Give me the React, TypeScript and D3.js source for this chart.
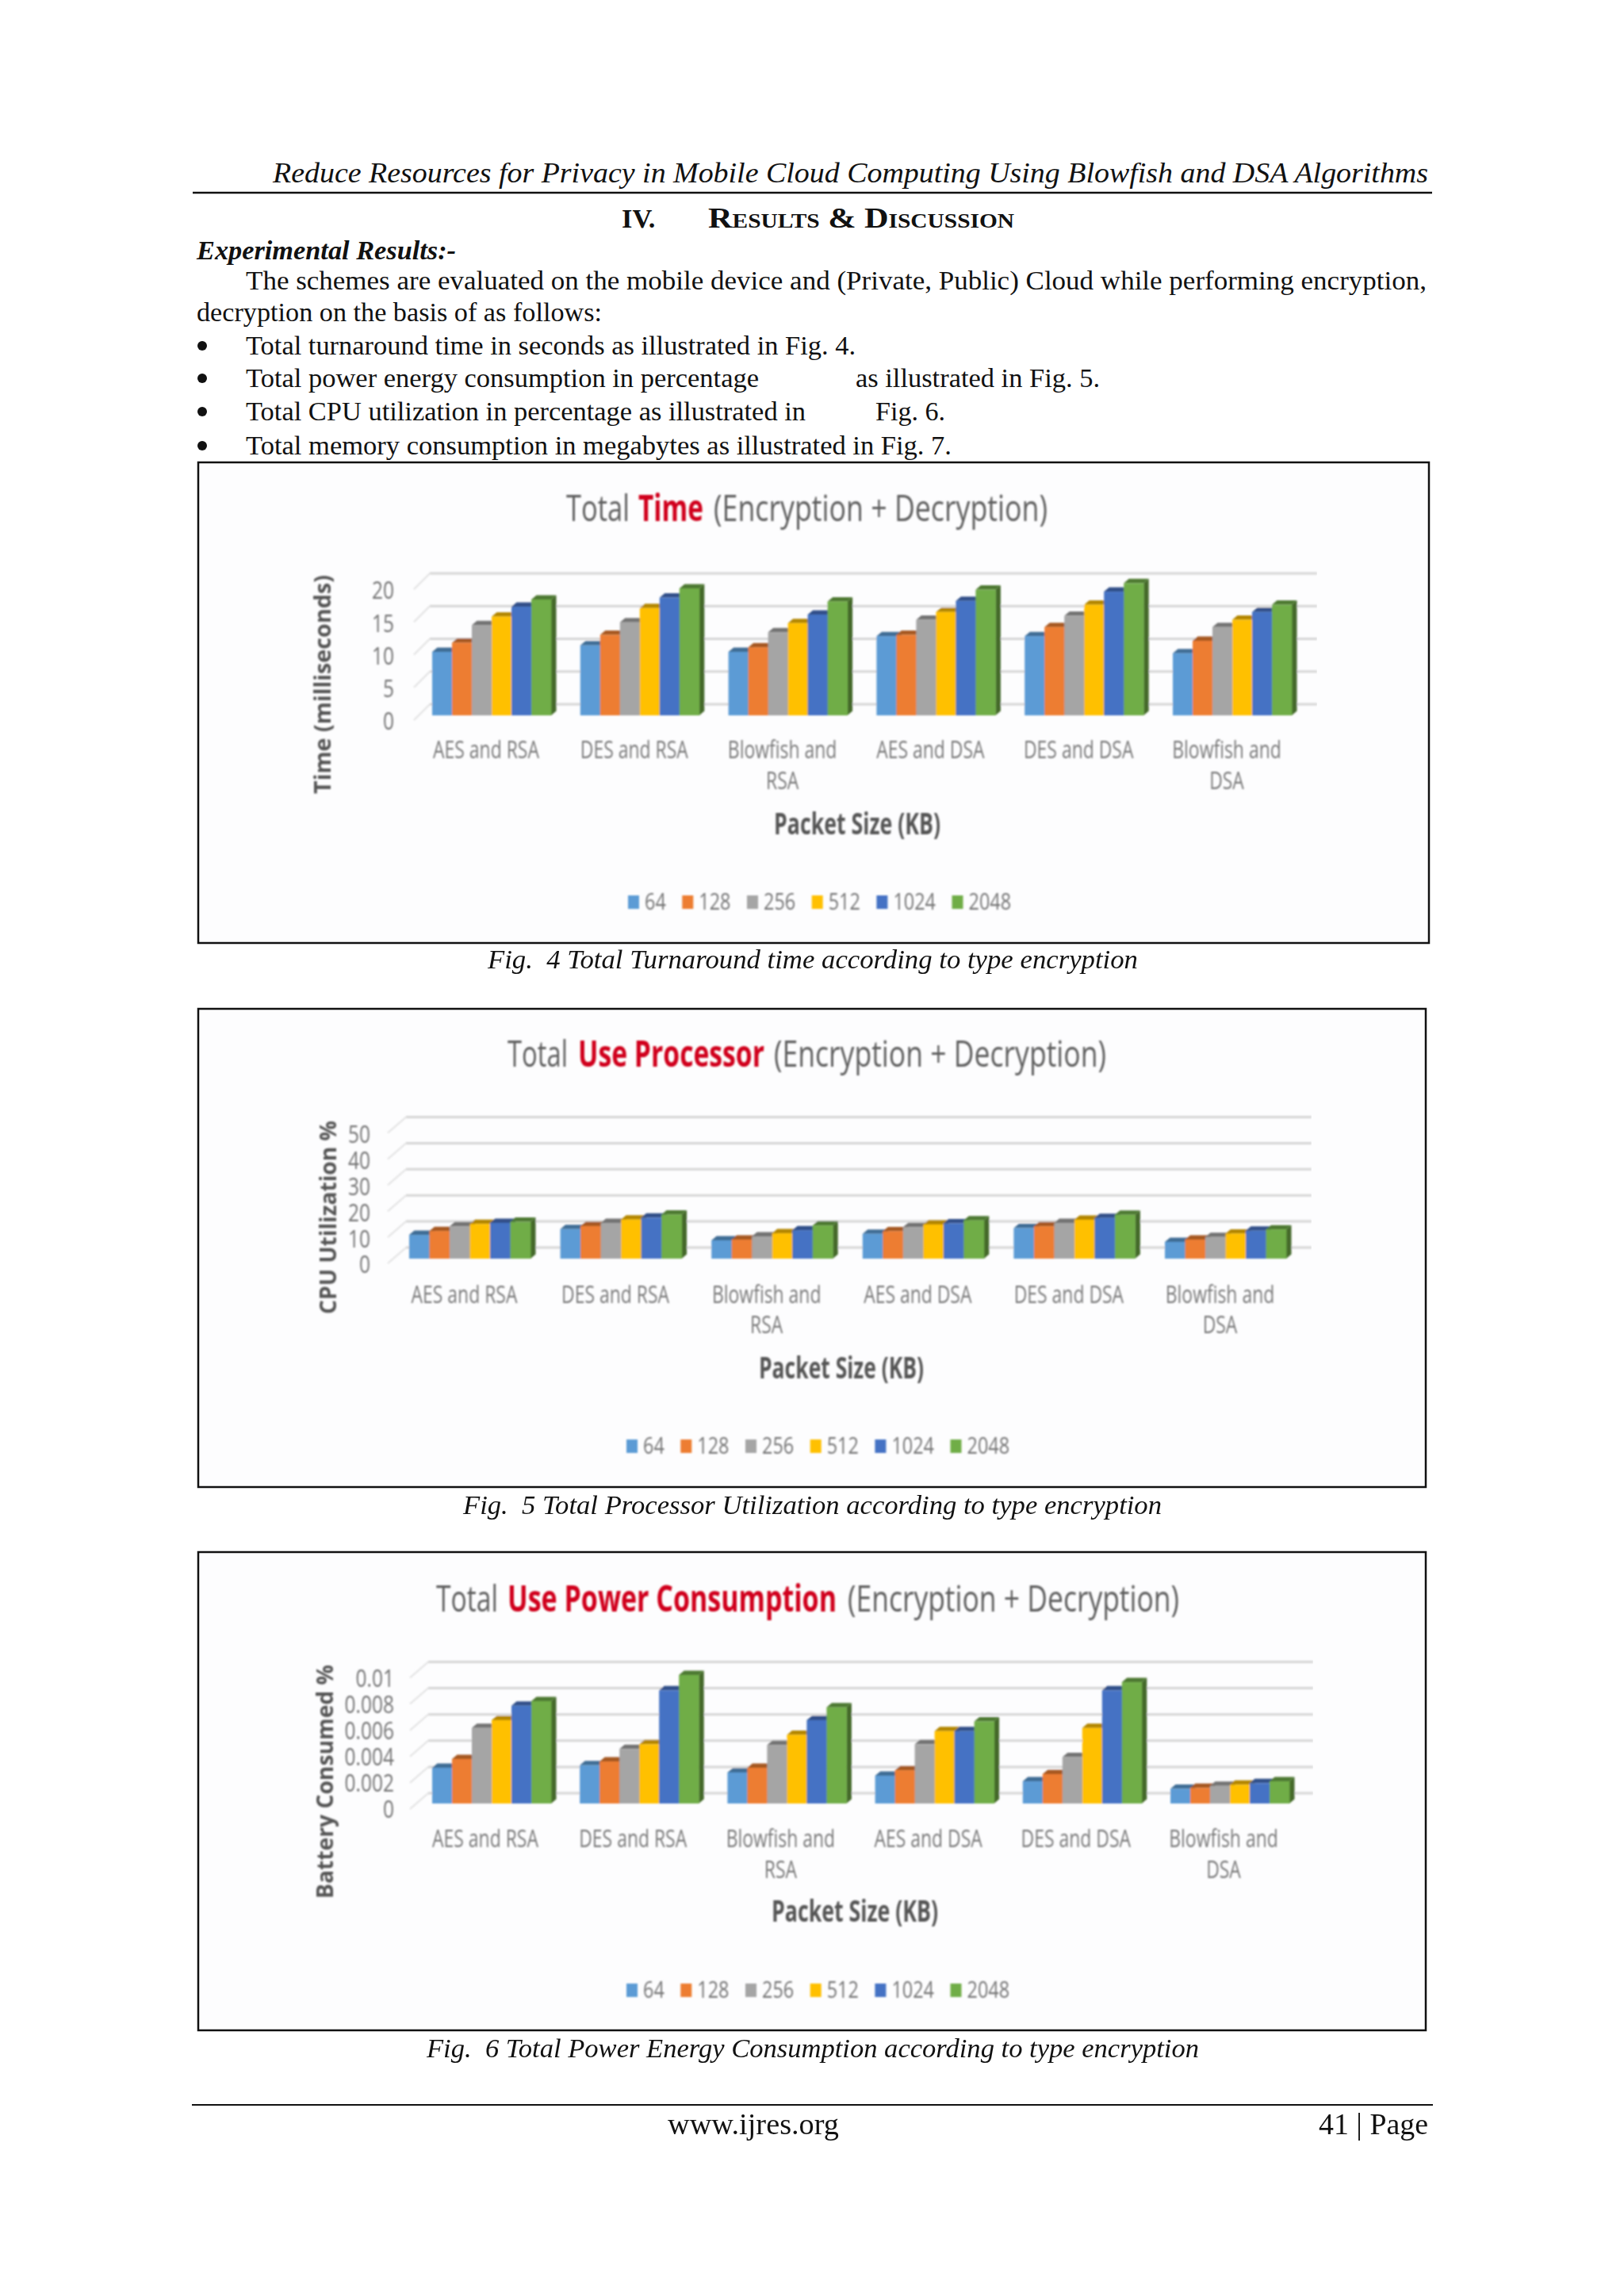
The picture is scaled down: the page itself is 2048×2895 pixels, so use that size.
import React, { useRef, useEffect } from 'react';
import * as d3 from 'd3';

const categories = [['AES and RSA'], ['DES and RSA'], ['Blowfish and', 'RSA'], ['AES and DSA'], ['DES and DSA'], ['Blowfish and', 'DSA']];
const seriesNames = ['64', '128', '256', '512', '1024', '2048'];
const seriesColors = ['#5B9BD5', '#ED7D31', '#A5A5A5', '#FFC000', '#4472C4', '#70AD47'];

const timeValues = [
  [9.7, 11.1, 13.8, 15.1, 16.6, 17.7],
  [10.7, 12.3, 14.2, 16.4, 18.0, 19.4],
  [9.7, 10.4, 12.7, 14.1, 15.4, 17.4],
  [12.1, 12.3, 14.6, 15.8, 17.5, 19.2],
  [12.1, 13.5, 15.2, 16.9, 18.9, 20.2],
  [9.5, 11.4, 13.5, 14.6, 15.8, 16.9],
];
const cpuValues = [
  [9.1, 10.6, 12.4, 13.3, 13.7, 14.1],
  [11.3, 12.5, 13.7, 15.0, 15.7, 16.9],
  [7.0, 7.3, 8.5, 9.7, 10.9, 12.7],
  [9.5, 10.5, 12.1, 13.1, 13.5, 14.7],
  [11.7, 12.4, 13.7, 14.9, 15.6, 16.8],
  [6.4, 7.3, 8.3, 9.6, 10.7, 11.2],
];
const batteryValues = [
  [0.00272, 0.00339, 0.00575, 0.00635, 0.00745, 0.0078],
  [0.00291, 0.0032, 0.00415, 0.00451, 0.00862, 0.00979],
  [0.00236, 0.00272, 0.00446, 0.00523, 0.00635, 0.00733],
  [0.00212, 0.00253, 0.00451, 0.00551, 0.00551, 0.00625],
  [0.00169, 0.00224, 0.00353, 0.00575, 0.00862, 0.00924],
  [0.00112, 0.00119, 0.00134, 0.00143, 0.00155, 0.00169],
];
const timeTicks = [0, 5, 10, 15, 20];
const cpuTicks = [0, 10, 20, 30, 40, 50];
const batteryTicks = [0, 0.002, 0.004, 0.006, 0.008, 0.01];

const chartFont = '"Open Sans", sans-serif';
const serif = '"Liberation Serif", serif';

const charts = [
  {
    values: timeValues, ticks: timeTicks, yTitle: 'Time (milliseconds)',
    frame: [250, 583, 1552, 606], baseline: 902, plotH: 165, barStart: 545, step: 186.8, groupW: 150,
    gridDy: 14, gridX: [542, 1661], wallDx: 20, tickRight: 497,
    yTitleX: 407, yTitleSpan: [1001, 725],
    title: [['Total', 714, 794, 0], ['Time', 805, 887, 1], ['(Encryption + Decryption)', 900, 1321, 0]], titleY: 657,
    labelY: 956, labelDy: 39, labelDx: -7, xTitle: [976, 1186, 1052], legendX: 792, legendY: 1138,
  },
  {
    values: cpuValues, ticks: cpuTicks, yTitle: 'CPU Utilization %',
    frame: [250, 1272, 1548, 603], baseline: 1587, plotH: 164.5, barStart: 516, step: 190.6, groupW: 153,
    gridDy: 14, gridX: [512, 1654], wallDx: 23, tickRight: 467,
    yTitleX: 414, yTitleSpan: [1657, 1413],
    title: [['Total', 640, 716, 0], ['Use Processor', 729, 964, 1], ['(Encryption + Decryption)', 976, 1395, 0]], titleY: 1345,
    labelY: 1643, labelDy: 38, labelDx: -7, xTitle: [957, 1165, 1738], legendX: 790, legendY: 1824,
  },
  {
    values: batteryValues, ticks: batteryTicks, yTitle: 'Battery Consumed %',
    frame: [250, 1957, 1548, 603], baseline: 2274, plotH: 165.5, barStart: 545, step: 186.2, groupW: 150,
    gridDy: 13, gridX: [540, 1656], wallDx: 23, tickRight: 497,
    yTitleX: 410, yTitleSpan: [2394, 2099],
    title: [['Total', 550, 628, 0], ['Use Power Consumption', 640, 1055, 1], ['(Encryption + Decryption)', 1069, 1487, 0]], titleY: 2032,
    labelY: 2329, labelDy: 39, labelDx: -8, xTitle: [973, 1183, 2423], legendX: 790, legendY: 2510,
  },
];

const narrow = (sel: any, k: number) => {
  sel.each(function (this: any) {
    const len = this.getComputedTextLength();
    d3.select(this).attr('textLength', len * k).attr('lengthAdjust', 'spacingAndGlyphs');
  });
};

const fit = (sel: any, width: number) => sel.attr('textLength', width).attr('lengthAdjust', 'spacingAndGlyphs');

const drawChart = (root: any, c: any) => {
  const [fx, fy, fw, fh] = c.frame;
  root.append('rect').attr('x', fx).attr('y', fy).attr('width', fw).attr('height', fh)
    .attr('fill', '#fdfdfe').attr('stroke', '#111').attr('stroke-width', 2.5);

  const g = root.append('g').attr('filter', 'url(#soft)');

  const y = d3.scaleLinear()
    .domain([0, c.ticks[c.ticks.length - 1]])
    .range([c.baseline, c.baseline - c.plotH]);

  // grid on the back wall, plus the slanted bit on the left wall
  c.ticks.forEach((t: number) => {
    const gy = y(t) - c.gridDy;
    g.append('line').attr('x1', c.gridX[0]).attr('x2', c.gridX[1]).attr('y1', gy).attr('y2', gy)
      .attr('stroke', '#d6d6d6').attr('stroke-width', 3);
    g.append('line').attr('x1', c.gridX[0] - c.wallDx).attr('x2', c.gridX[0])
      .attr('y1', gy + 20).attr('y2', gy)
      .attr('stroke', '#e2e2e2').attr('stroke-width', 2);
  });

  const x0 = d3.scaleBand<number>()
    .domain(d3.range(categories.length))
    .range([c.barStart - (c.step - c.groupW) / 2, c.barStart - (c.step - c.groupW) / 2 + c.step * categories.length])
    .paddingInner((c.step - c.groupW) / c.step)
    .paddingOuter((c.step - c.groupW) / c.step / 2);
  const x1 = d3.scaleBand<number>().domain(d3.range(seriesNames.length)).range([0, x0.bandwidth()]);
  const color = d3.scaleOrdinal<number, string>().domain(d3.range(seriesNames.length)).range(seriesColors);

  const dx = 6.5;
  const dy = 5.5;
  const w = x1.bandwidth();
  const poly = d3.line();

  categories.forEach((_, i) => {
    const bars = g.append('g').attr('transform', `translate(${x0(i)},0)`);
    c.values[i].forEach((v: number, s: number) => {
      const bx = x1(s) as number;
      const top = y(v);
      const base = y(0);
      const fill = color(s);
      bars.append('path')
        .attr('d', poly([[bx + w, top], [bx + w + dx, top - dy], [bx + w + dx, base - dy], [bx + w, base]]) + 'Z')
        .attr('fill', d3.color(fill)!.darker(1.4).formatHex());
      bars.append('path')
        .attr('d', poly([[bx, top], [bx + dx, top - dy], [bx + w + dx, top - dy], [bx + w, top]]) + 'Z')
        .attr('fill', d3.color(fill)!.darker(1).formatHex());
      bars.append('rect').attr('x', bx).attr('y', top).attr('width', w + 0.4).attr('height', base - top).attr('fill', fill);
    });
  });

  // y tick labels
  const axis = g.append('g')
    .attr('transform', `translate(${c.tickRight},8)`)
    .call(d3.axisLeft(y).tickValues(c.ticks).tickSize(0).tickPadding(0).tickFormat((d: any) => String(d)));
  axis.select('.domain').remove();
  axis.selectAll('text')
    .attr('font-family', chartFont).attr('font-size', 31).attr('fill', '#757575')
    .call(narrow, 0.79);

  // category labels
  categories.forEach((lines, i) => {
    lines.forEach((line, k) => {
      g.append('text')
        .attr('x', (x0(i) as number) + x0.bandwidth() / 2 + c.labelDx)
        .attr('y', c.labelY + k * c.labelDy)
        .attr('text-anchor', 'middle')
        .attr('font-family', chartFont).attr('font-size', 31).attr('fill', '#7a7a7a')
        .text(line)
        .call(narrow, 0.74);
    });
  });

  // title pieces
  c.title.forEach(([txt, a, b, red]: any) => {
    g.append('text').attr('x', a).attr('y', c.titleY)
      .attr('font-family', chartFont).attr('font-size', 46)
      .attr('font-weight', red ? 700 : 400)
      .attr('fill', red ? '#d0021b' : '#5f5f5f')
      .text(txt)
      .call(fit, b - a);
  });

  // axis titles
  g.append('text').attr('x', c.xTitle[0]).attr('y', c.xTitle[2])
    .attr('font-family', chartFont).attr('font-size', 37).attr('font-weight', 700).attr('fill', '#555')
    .text('Packet Size (KB)').call(fit, c.xTitle[1] - c.xTitle[0]);
  g.append('text')
    .attr('transform', `translate(${c.yTitleX + 10},${c.yTitleSpan[0]}) rotate(-90)`)
    .attr('font-family', chartFont).attr('font-size', 29).attr('font-weight', 700).attr('fill', '#555')
    .text(c.yTitle).call(fit, c.yTitleSpan[0] - c.yTitleSpan[1]);

  // legend
  let lx = c.legendX;
  seriesNames.forEach((name, s) => {
    g.append('rect').attr('x', lx).attr('y', c.legendY - 9).attr('width', 14).attr('height', 17).attr('fill', color(s));
    const tw = name.length * 13.4;
    g.append('text').attr('x', lx + 21).attr('y', c.legendY + 9)
      .attr('font-family', chartFont).attr('font-size', 29).attr('fill', '#757575')
      .text(name).call(fit, tw);
    lx += 21 + tw + 20.5;
  });
};

const Chart = ({ config }: any) => {
  const ref = useRef<SVGGElement>(null);
  useEffect(() => {
    const root = d3.select(ref.current);
    root.selectAll('*').remove();
    drawChart(root, config);
  }, [config]);
  return <g ref={ref} />;
};

const T = ({ x, y, w, size = 34.4, style, weight, children, anchor }: any) => (
  <text x={x} y={y} textLength={w} lengthAdjust={w ? 'spacingAndGlyphs' : undefined} fontFamily={serif} fontSize={size}
    fontStyle={style} fontWeight={weight} textAnchor={anchor} fill="#111">{children}</text>
);

const bullets = [
  [[310, 1079, 'Total turnaround time in seconds as illustrated in Fig. 4.']],
  [[310, 957, 'Total power energy consumption in percentage'], [1079, 1387, 'as illustrated in Fig. 5.']],
  [[310, 1016, 'Total CPU utilization in percentage as illustrated in'], [1104, 1192, 'Fig. 6.']],
  [[310, 1200, 'Total memory consumption in megabytes as illustrated in Fig. 7.']],
];
const bulletY = [447, 488, 530, 573];

const App = () => (
  <svg width={2048} height={2895} style={{ position: 'absolute', left: 0, top: 0, display: 'block', background: '#fff' }}>
    <defs>
      <filter id="soft" x="0" y="0" width="100%" height="100%" filterUnits="objectBoundingBox">
        <feGaussianBlur stdDeviation="0.9" />
      </filter>
    </defs>

    <T x={344} y={230} w={1457} size={36} style="italic">Reduce Resources for Privacy in Mobile Cloud Computing Using Blowfish and DSA Algorithms</T>
    <line x1={243} x2={1806} y1={243} y2={243} stroke="#111" strokeWidth={2.5} />
    <T x={784} y={287} weight={700}>IV.</T>
    <text x={893} y={287} textLength={386} lengthAdjust="spacingAndGlyphs" fontFamily={serif} fontSize={36} fontWeight={700} fontVariant="small-caps" fill="#111">Results &amp; Discussion</text>
    <T x={248} y={327} w={327} style="italic" weight={700}>Experimental Results:-</T>
    <T x={310} y={365} w={1489}>The schemes are evaluated on the mobile device and (Private, Public) Cloud while performing encryption,</T>
    <T x={248} y={405} w={511}>decryption on the basis of as follows:</T>
    {bullets.map((parts, i) => (
      <g key={i}>
        <circle cx={255} cy={bulletY[i] - 11} r={6} fill="#111" />
        {parts.map((p: any, k) => (
          <T key={k} x={p[0]} y={bulletY[i]} w={p[1] - p[0]}>{p[2]}</T>
        ))}
      </g>
    ))}

    {charts.map((c, i) => <Chart key={i} config={c} />)}

    <T x={615} y={1221} w={820} style="italic">{'Fig.\u00a0 4 Total Turnaround time according to type encryption'}</T>
    <T x={584} y={1909} w={881} style="italic">{'Fig.\u00a0 5 Total Processor Utilization according to type encryption'}</T>
    <T x={538} y={2594} w={974} style="italic">{'Fig.\u00a0 6 Total Power Energy Consumption according to type encryption'}</T>

    <line x1={242} x2={1807} y1={2654} y2={2654} stroke="#111" strokeWidth={2} />
    <T x={842} y={2691} w={216} size={38}>www.ijres.org</T>
    <T x={1663} y={2691} w={138} size={38}>41 | Page</T>
  </svg>
);

export default App;
